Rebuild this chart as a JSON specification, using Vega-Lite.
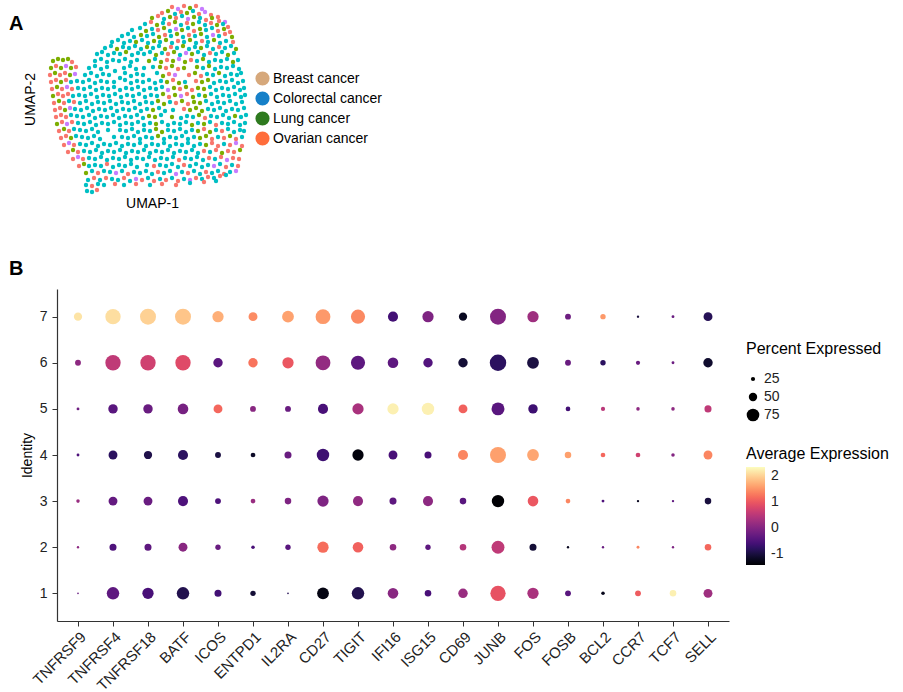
{
"$schema":"https://vega.github.io/schema/vega-lite/v6.json",
"padding":{"left":9,"top":3,"right":0,"bottom":0},
"config":{"font":"Liberation Sans","view":{"stroke":null},"concat":{"spacing":49}},
"datasets":{
"umap":[
{"u1":2.2,"u2":9.4,"s":"S1"},{"u1":2.8,"u2":9.2,"s":"S4"},{"u1":3.4,"u2":9.5,"s":"S1"},{"u1":4.0,"u2":9.3,"s":"S2"},{"u1":4.6,"u2":9.5,"s":"S1"},{"u1":5.2,"u2":9.2,"s":"S4"},
{"u1":1.2,"u2":8.8,"s":"S1"},{"u1":1.8,"u2":9.0,"s":"S2"},{"u1":2.5,"u2":8.7,"s":"S3"},{"u1":3.1,"u2":8.9,"s":"S1"},{"u1":3.7,"u2":8.8,"s":"S2"},{"u1":4.3,"u2":9.0,"s":"S3"},{"u1":4.9,"u2":8.7,"s":"S1"},{"u1":5.5,"u2":8.9,"s":"S4"},{"u1":6.1,"u2":8.6,"s":"S1"},{"u1":6.8,"u2":8.4,"s":"S1"},
{"u1":0.2,"u2":8.3,"s":"S2"},{"u1":0.8,"u2":8.5,"s":"S1"},{"u1":1.4,"u2":8.2,"s":"S3"},{"u1":2.0,"u2":8.4,"s":"S2"},{"u1":2.6,"u2":8.3,"s":"S1"},{"u1":3.2,"u2":8.5,"s":"S3"},{"u1":3.8,"u2":8.2,"s":"S4"},{"u1":4.4,"u2":8.4,"s":"S2"},{"u1":5.0,"u2":8.3,"s":"S3"},{"u1":5.6,"u2":8.1,"s":"S1"},{"u1":6.2,"u2":8.3,"s":"S2"},{"u1":6.9,"u2":8.0,"s":"S1"},{"u1":7.5,"u2":7.9,"s":"S4"},
{"u1":-0.5,"u2":7.7,"s":"S3"},{"u1":0.1,"u2":7.9,"s":"S1"},{"u1":0.7,"u2":7.6,"s":"S2"},{"u1":1.3,"u2":7.8,"s":"S3"},{"u1":1.9,"u2":7.7,"s":"S1"},{"u1":2.5,"u2":7.9,"s":"S2"},{"u1":3.1,"u2":7.6,"s":"S3"},{"u1":3.7,"u2":7.8,"s":"S1"},{"u1":4.3,"u2":7.7,"s":"S2"},{"u1":4.9,"u2":7.9,"s":"S3"},{"u1":5.5,"u2":7.6,"s":"S3"},{"u1":6.1,"u2":7.8,"s":"S1"},{"u1":6.7,"u2":7.6,"s":"S2"},{"u1":7.3,"u2":7.7,"s":"S3"},{"u1":7.8,"u2":7.4,"s":"S1"},
{"u1":-1.8,"u2":7.1,"s":"S3"},{"u1":-1.0,"u2":7.3,"s":"S3"},{"u1":-0.4,"u2":7.0,"s":"S2"},{"u1":0.2,"u2":7.2,"s":"S3"},{"u1":0.8,"u2":7.1,"s":"S1"},{"u1":1.4,"u2":7.3,"s":"S2"},{"u1":2.0,"u2":7.0,"s":"S3"},{"u1":2.6,"u2":7.2,"s":"S4"},{"u1":3.2,"u2":7.1,"s":"S2"},{"u1":3.8,"u2":7.3,"s":"S3"},{"u1":4.4,"u2":7.0,"s":"S1"},{"u1":5.0,"u2":7.2,"s":"S2"},{"u1":5.6,"u2":7.1,"s":"S3"},{"u1":6.2,"u2":7.3,"s":"S3"},{"u1":6.8,"u2":7.0,"s":"S1"},{"u1":7.4,"u2":7.2,"s":"S2"},{"u1":8.0,"u2":6.9,"s":"S1"},
{"u1":-2.8,"u2":6.5,"s":"S3"},{"u1":-2.2,"u2":6.7,"s":"S3"},{"u1":-1.6,"u2":6.4,"s":"S3"},{"u1":-0.9,"u2":6.6,"s":"S2"},{"u1":-0.3,"u2":6.5,"s":"S3"},{"u1":0.3,"u2":6.7,"s":"S3"},{"u1":0.9,"u2":6.4,"s":"S2"},{"u1":1.5,"u2":6.6,"s":"S1"},{"u1":2.1,"u2":6.5,"s":"S3"},{"u1":2.7,"u2":6.7,"s":"S2"},{"u1":3.3,"u2":6.4,"s":"S3"},{"u1":3.9,"u2":6.6,"s":"S1"},{"u1":4.5,"u2":6.5,"s":"S3"},{"u1":5.1,"u2":6.7,"s":"S2"},{"u1":5.7,"u2":6.4,"s":"S3"},{"u1":6.3,"u2":6.6,"s":"S4"},{"u1":6.9,"u2":6.5,"s":"S3"},{"u1":7.5,"u2":6.7,"s":"S1"},{"u1":8.2,"u2":6.4,"s":"S2"},
{"u1":-3.8,"u2":5.9,"s":"S3"},{"u1":-3.2,"u2":6.1,"s":"S3"},{"u1":-2.6,"u2":5.8,"s":"S3"},{"u1":-2.0,"u2":6.0,"s":"S3"},{"u1":-1.4,"u2":5.9,"s":"S2"},{"u1":-0.8,"u2":6.1,"s":"S3"},{"u1":-0.2,"u2":5.8,"s":"S3"},{"u1":0.4,"u2":6.0,"s":"S2"},{"u1":1.0,"u2":5.9,"s":"S3"},{"u1":1.6,"u2":6.1,"s":"S2"},{"u1":2.2,"u2":5.8,"s":"S3"},{"u1":2.8,"u2":6.0,"s":"S1"},{"u1":3.4,"u2":5.9,"s":"S3"},{"u1":4.0,"u2":6.1,"s":"S2"},{"u1":4.6,"u2":5.8,"s":"S3"},{"u1":5.2,"u2":6.0,"s":"S1"},{"u1":5.8,"u2":5.9,"s":"S3"},{"u1":6.4,"u2":6.1,"s":"S2"},{"u1":7.0,"u2":5.8,"s":"S3"},{"u1":7.6,"u2":6.0,"s":"S3"},{"u1":8.3,"u2":5.9,"s":"S1"},
{"u1":-4.5,"u2":5.3,"s":"S3"},{"u1":-3.9,"u2":5.5,"s":"S3"},{"u1":-3.3,"u2":5.2,"s":"S2"},{"u1":-2.7,"u2":5.4,"s":"S3"},{"u1":-2.1,"u2":5.3,"s":"S3"},{"u1":-1.5,"u2":5.5,"s":"S3"},{"u1":-0.9,"u2":5.2,"s":"S3"},{"u1":-0.3,"u2":5.4,"s":"S2"},{"u1":0.3,"u2":5.3,"s":"S3"},{"u1":0.9,"u2":5.5,"s":"S3"},{"u1":1.5,"u2":5.2,"s":"S2"},{"u1":2.1,"u2":5.4,"s":"S1"},{"u1":2.7,"u2":5.3,"s":"S3"},{"u1":3.3,"u2":5.5,"s":"S2"},{"u1":3.9,"u2":5.2,"s":"S3"},{"u1":4.5,"u2":5.4,"s":"S3"},{"u1":5.1,"u2":5.3,"s":"S2"},{"u1":5.7,"u2":5.5,"s":"S3"},{"u1":6.3,"u2":5.2,"s":"S3"},{"u1":6.9,"u2":5.4,"s":"S1"},{"u1":7.5,"u2":5.3,"s":"S3"},{"u1":8.1,"u2":5.5,"s":"S3"},{"u1":8.6,"u2":5.2,"s":"S2"},
{"u1":-5.3,"u2":4.7,"s":"S3"},{"u1":-4.8,"u2":4.9,"s":"S3"},{"u1":-4.2,"u2":4.6,"s":"S3"},{"u1":-3.6,"u2":4.8,"s":"S3"},{"u1":-3.0,"u2":4.7,"s":"S3"},{"u1":-2.4,"u2":4.9,"s":"S2"},{"u1":-1.8,"u2":4.6,"s":"S3"},{"u1":-1.2,"u2":4.8,"s":"S3"},{"u1":-0.6,"u2":4.7,"s":"S3"},{"u1":0.0,"u2":4.9,"s":"S3"},{"u1":0.6,"u2":4.6,"s":"S2"},{"u1":1.2,"u2":4.8,"s":"S3"},{"u1":1.8,"u2":4.7,"s":"S1"},{"u1":2.4,"u2":4.9,"s":"S2"},{"u1":3.0,"u2":4.6,"s":"S3"},{"u1":3.6,"u2":4.8,"s":"S4"},{"u1":4.2,"u2":4.7,"s":"S2"},{"u1":4.8,"u2":4.9,"s":"S3"},{"u1":5.4,"u2":4.6,"s":"S3"},{"u1":6.0,"u2":4.8,"s":"S1"},{"u1":6.6,"u2":4.7,"s":"S3"},{"u1":7.2,"u2":4.9,"s":"S3"},{"u1":7.8,"u2":4.6,"s":"S2"},{"u1":8.4,"u2":4.8,"s":"S3"},
{"u1":-9.7,"u2":4.0,"s":"S2"},{"u1":-9.2,"u2":4.2,"s":"S2"},{"u1":-8.7,"u2":4.1,"s":"S2"},{"u1":-8.2,"u2":4.2,"s":"S2"},{"u1":-7.8,"u2":3.9,"s":"S1"},{"u1":-5.5,"u2":4.0,"s":"S3"},{"u1":-4.9,"u2":4.2,"s":"S3"},{"u1":-4.3,"u2":3.9,"s":"S3"},{"u1":-3.7,"u2":4.1,"s":"S3"},{"u1":-3.1,"u2":4.0,"s":"S3"},{"u1":-2.5,"u2":4.2,"s":"S3"},{"u1":-1.9,"u2":3.9,"s":"S3"},{"u1":-1.3,"u2":4.1,"s":"S3"},{"u1":-0.1,"u2":4.0,"s":"S2"},{"u1":0.5,"u2":4.2,"s":"S3"},{"u1":1.1,"u2":3.9,"s":"S2"},{"u1":1.7,"u2":4.1,"s":"S1"},{"u1":2.3,"u2":4.0,"s":"S2"},{"u1":2.9,"u2":4.2,"s":"S4"},{"u1":3.5,"u2":3.9,"s":"S2"},{"u1":4.1,"u2":4.1,"s":"S1"},{"u1":4.7,"u2":4.0,"s":"S3"},{"u1":5.3,"u2":4.2,"s":"S2"},{"u1":5.9,"u2":3.9,"s":"S3"},{"u1":6.5,"u2":4.1,"s":"S3"},{"u1":7.1,"u2":4.0,"s":"S3"},{"u1":7.7,"u2":4.2,"s":"S3"},{"u1":8.3,"u2":3.9,"s":"S2"},{"u1":8.8,"u2":4.1,"s":"S3"},
{"u1":-9.9,"u2":3.3,"s":"S2"},{"u1":-9.4,"u2":3.5,"s":"S1"},{"u1":-8.9,"u2":3.3,"s":"S2"},{"u1":-8.4,"u2":3.5,"s":"S4"},{"u1":-7.9,"u2":3.3,"s":"S2"},{"u1":-7.4,"u2":3.4,"s":"S1"},{"u1":-6.1,"u2":3.3,"s":"S3"},{"u1":-5.5,"u2":3.5,"s":"S3"},{"u1":-4.9,"u2":3.2,"s":"S3"},{"u1":-4.3,"u2":3.4,"s":"S3"},{"u1":-2.6,"u2":3.3,"s":"S3"},{"u1":-2.0,"u2":3.5,"s":"S3"},{"u1":-1.4,"u2":3.2,"s":"S3"},{"u1":1.0,"u2":3.4,"s":"S2"},{"u1":1.6,"u2":3.3,"s":"S1"},{"u1":2.2,"u2":3.5,"s":"S2"},{"u1":2.8,"u2":3.2,"s":"S1"},{"u1":4.7,"u2":3.4,"s":"S2"},{"u1":5.3,"u2":3.3,"s":"S3"},{"u1":5.9,"u2":3.5,"s":"S2"},{"u1":6.5,"u2":3.2,"s":"S3"},{"u1":7.1,"u2":3.4,"s":"S3"},{"u1":7.7,"u2":3.3,"s":"S3"},{"u1":8.3,"u2":3.5,"s":"S3"},{"u1":8.9,"u2":3.2,"s":"S3"},
{"u1":-10.0,"u2":2.6,"s":"S1"},{"u1":-9.5,"u2":2.8,"s":"S2"},{"u1":-9.0,"u2":2.6,"s":"S1"},{"u1":-8.5,"u2":2.8,"s":"S1"},{"u1":-8.0,"u2":2.6,"s":"S2"},{"u1":-7.5,"u2":2.7,"s":"S4"},{"u1":-6.5,"u2":2.6,"s":"S3"},{"u1":-5.9,"u2":2.8,"s":"S3"},{"u1":-5.3,"u2":2.5,"s":"S3"},{"u1":-4.7,"u2":2.7,"s":"S3"},{"u1":-4.1,"u2":2.6,"s":"S3"},{"u1":-2.5,"u2":2.8,"s":"S3"},{"u1":-1.9,"u2":2.5,"s":"S3"},{"u1":-1.3,"u2":2.7,"s":"S3"},{"u1":-0.7,"u2":2.6,"s":"S3"},{"u1":0.7,"u2":2.8,"s":"S3"},{"u1":1.3,"u2":2.5,"s":"S2"},{"u1":1.9,"u2":2.7,"s":"S1"},{"u1":2.5,"u2":2.6,"s":"S4"},{"u1":4.5,"u2":2.8,"s":"S2"},{"u1":5.1,"u2":2.5,"s":"S1"},{"u1":5.7,"u2":2.7,"s":"S3"},{"u1":6.3,"u2":2.6,"s":"S3"},{"u1":6.9,"u2":2.8,"s":"S2"},{"u1":7.5,"u2":2.5,"s":"S3"},{"u1":8.1,"u2":2.7,"s":"S3"},{"u1":8.7,"u2":2.6,"s":"S3"},{"u1":9.1,"u2":2.8,"s":"S3"},
{"u1":-9.9,"u2":1.9,"s":"S1"},{"u1":-9.4,"u2":2.1,"s":"S1"},{"u1":-8.9,"u2":1.9,"s":"S2"},{"u1":-8.4,"u2":2.1,"s":"S1"},{"u1":-7.9,"u2":1.9,"s":"S3"},{"u1":-7.3,"u2":2.0,"s":"S3"},{"u1":-6.7,"u2":1.9,"s":"S3"},{"u1":-6.1,"u2":2.1,"s":"S3"},{"u1":-5.5,"u2":1.8,"s":"S3"},{"u1":-4.9,"u2":2.0,"s":"S3"},{"u1":-4.3,"u2":1.9,"s":"S3"},{"u1":-2.5,"u2":2.1,"s":"S3"},{"u1":-1.9,"u2":1.8,"s":"S3"},{"u1":-1.3,"u2":2.0,"s":"S3"},{"u1":-0.7,"u2":1.9,"s":"S3"},{"u1":-0.1,"u2":2.1,"s":"S3"},{"u1":0.5,"u2":1.8,"s":"S3"},{"u1":1.1,"u2":2.0,"s":"S3"},{"u1":1.7,"u2":1.9,"s":"S2"},{"u1":2.3,"u2":2.1,"s":"S1"},{"u1":2.9,"u2":1.8,"s":"S2"},{"u1":4.6,"u2":2.0,"s":"S1"},{"u1":5.2,"u2":1.9,"s":"S2"},{"u1":5.8,"u2":2.1,"s":"S2"},{"u1":6.4,"u2":1.8,"s":"S3"},{"u1":7.0,"u2":2.0,"s":"S3"},{"u1":7.6,"u2":1.9,"s":"S3"},{"u1":8.2,"u2":2.1,"s":"S3"},{"u1":8.8,"u2":1.8,"s":"S3"},{"u1":9.3,"u2":2.0,"s":"S3"},
{"u1":-9.8,"u2":1.2,"s":"S1"},{"u1":-9.3,"u2":1.4,"s":"S2"},{"u1":-8.8,"u2":1.2,"s":"S1"},{"u1":-8.3,"u2":1.4,"s":"S4"},{"u1":-7.8,"u2":1.2,"s":"S1"},{"u1":-7.2,"u2":1.3,"s":"S3"},{"u1":-6.6,"u2":1.2,"s":"S3"},{"u1":-6.0,"u2":1.4,"s":"S3"},{"u1":-5.4,"u2":1.1,"s":"S3"},{"u1":-4.8,"u2":1.3,"s":"S3"},{"u1":-4.2,"u2":1.2,"s":"S3"},{"u1":-3.6,"u2":1.4,"s":"S3"},{"u1":-3.0,"u2":1.1,"s":"S3"},{"u1":-2.4,"u2":1.3,"s":"S3"},{"u1":-1.8,"u2":1.2,"s":"S3"},{"u1":-1.2,"u2":1.4,"s":"S3"},{"u1":-0.6,"u2":1.1,"s":"S3"},{"u1":0.0,"u2":1.3,"s":"S3"},{"u1":0.6,"u2":1.2,"s":"S3"},{"u1":1.2,"u2":1.4,"s":"S3"},{"u1":1.8,"u2":1.1,"s":"S4"},{"u1":2.4,"u2":1.3,"s":"S2"},{"u1":3.0,"u2":1.2,"s":"S1"},{"u1":3.6,"u2":1.4,"s":"S2"},{"u1":4.2,"u2":1.1,"s":"S1"},{"u1":4.8,"u2":1.3,"s":"S2"},{"u1":5.4,"u2":1.2,"s":"S2"},{"u1":6.0,"u2":1.4,"s":"S3"},{"u1":6.6,"u2":1.1,"s":"S3"},{"u1":7.2,"u2":1.3,"s":"S3"},{"u1":7.8,"u2":1.2,"s":"S3"},{"u1":8.4,"u2":1.4,"s":"S3"},{"u1":9.0,"u2":1.1,"s":"S3"},{"u1":9.4,"u2":1.3,"s":"S3"},
{"u1":-9.7,"u2":0.5,"s":"S2"},{"u1":-9.2,"u2":0.7,"s":"S1"},{"u1":-8.7,"u2":0.5,"s":"S1"},{"u1":-8.2,"u2":0.7,"s":"S1"},{"u1":-7.7,"u2":0.5,"s":"S3"},{"u1":-7.1,"u2":0.6,"s":"S3"},{"u1":-6.5,"u2":0.5,"s":"S3"},{"u1":-5.9,"u2":0.7,"s":"S3"},{"u1":-5.3,"u2":0.4,"s":"S3"},{"u1":-4.7,"u2":0.6,"s":"S3"},{"u1":-4.1,"u2":0.5,"s":"S3"},{"u1":-3.5,"u2":0.7,"s":"S3"},{"u1":-2.9,"u2":0.4,"s":"S3"},{"u1":-2.3,"u2":0.6,"s":"S3"},{"u1":-1.7,"u2":0.5,"s":"S3"},{"u1":-1.1,"u2":0.7,"s":"S3"},{"u1":-0.5,"u2":0.4,"s":"S3"},{"u1":0.1,"u2":0.6,"s":"S3"},{"u1":0.7,"u2":0.5,"s":"S3"},{"u1":1.3,"u2":0.7,"s":"S2"},{"u1":1.9,"u2":0.4,"s":"S1"},{"u1":2.5,"u2":0.6,"s":"S2"},{"u1":3.1,"u2":0.5,"s":"S4"},{"u1":3.7,"u2":0.7,"s":"S1"},{"u1":4.3,"u2":0.4,"s":"S2"},{"u1":4.9,"u2":0.6,"s":"S3"},{"u1":5.5,"u2":0.5,"s":"S2"},{"u1":6.1,"u2":0.7,"s":"S3"},{"u1":6.7,"u2":0.4,"s":"S3"},{"u1":7.3,"u2":0.6,"s":"S3"},{"u1":7.9,"u2":0.5,"s":"S3"},{"u1":8.5,"u2":0.7,"s":"S3"},{"u1":9.1,"u2":0.4,"s":"S3"},{"u1":9.5,"u2":0.6,"s":"S3"},
{"u1":-9.6,"u2":-0.2,"s":"S1"},{"u1":-9.1,"u2":0.0,"s":"S2"},{"u1":-8.6,"u2":-0.2,"s":"S1"},{"u1":-8.1,"u2":0.0,"s":"S3"},{"u1":-7.6,"u2":-0.1,"s":"S1"},{"u1":-7.0,"u2":-0.2,"s":"S3"},{"u1":-6.4,"u2":0.0,"s":"S3"},{"u1":-5.8,"u2":-0.3,"s":"S3"},{"u1":-5.2,"u2":-0.1,"s":"S3"},{"u1":-4.6,"u2":-0.2,"s":"S3"},{"u1":-4.0,"u2":0.0,"s":"S3"},{"u1":-3.4,"u2":-0.3,"s":"S3"},{"u1":-2.8,"u2":-0.1,"s":"S3"},{"u1":-2.2,"u2":-0.2,"s":"S3"},{"u1":-1.6,"u2":0.0,"s":"S3"},{"u1":-1.0,"u2":-0.3,"s":"S3"},{"u1":-0.4,"u2":-0.1,"s":"S3"},{"u1":0.2,"u2":-0.2,"s":"S3"},{"u1":0.8,"u2":0.0,"s":"S2"},{"u1":1.4,"u2":-0.3,"s":"S2"},{"u1":2.0,"u2":-0.1,"s":"S3"},{"u1":2.6,"u2":-0.2,"s":"S1"},{"u1":3.2,"u2":0.0,"s":"S2"},{"u1":3.8,"u2":-0.3,"s":"S1"},{"u1":4.4,"u2":-0.1,"s":"S2"},{"u1":5.0,"u2":-0.2,"s":"S2"},{"u1":5.6,"u2":0.0,"s":"S3"},{"u1":6.2,"u2":-0.3,"s":"S3"},{"u1":6.8,"u2":-0.1,"s":"S3"},{"u1":7.4,"u2":-0.2,"s":"S3"},{"u1":8.0,"u2":0.0,"s":"S3"},{"u1":8.6,"u2":-0.3,"s":"S3"},{"u1":9.2,"u2":-0.1,"s":"S3"},
{"u1":-9.5,"u2":-0.9,"s":"S1"},{"u1":-9.0,"u2":-0.7,"s":"S1"},{"u1":-8.5,"u2":-0.9,"s":"S2"},{"u1":-8.0,"u2":-0.7,"s":"S4"},{"u1":-7.5,"u2":-0.8,"s":"S3"},{"u1":-6.9,"u2":-0.9,"s":"S3"},{"u1":-6.3,"u2":-0.7,"s":"S3"},{"u1":-5.7,"u2":-1.0,"s":"S3"},{"u1":-5.1,"u2":-0.8,"s":"S3"},{"u1":-4.5,"u2":-0.9,"s":"S3"},{"u1":-3.9,"u2":-0.7,"s":"S3"},{"u1":-3.3,"u2":-1.0,"s":"S3"},{"u1":-2.7,"u2":-0.8,"s":"S3"},{"u1":-2.1,"u2":-0.9,"s":"S3"},{"u1":-1.5,"u2":-0.7,"s":"S3"},{"u1":-0.9,"u2":-1.0,"s":"S3"},{"u1":-0.3,"u2":-0.8,"s":"S3"},{"u1":0.3,"u2":-0.9,"s":"S2"},{"u1":0.9,"u2":-0.7,"s":"S3"},{"u1":1.5,"u2":-1.0,"s":"S3"},{"u1":3.4,"u2":-0.8,"s":"S1"},{"u1":4.0,"u2":-0.9,"s":"S2"},{"u1":4.6,"u2":-0.7,"s":"S2"},{"u1":5.2,"u2":-1.0,"s":"S2"},{"u1":5.8,"u2":-0.8,"s":"S3"},{"u1":6.4,"u2":-0.9,"s":"S3"},{"u1":7.0,"u2":-0.7,"s":"S3"},{"u1":7.6,"u2":-1.0,"s":"S3"},{"u1":8.2,"u2":-0.8,"s":"S3"},{"u1":8.8,"u2":-0.9,"s":"S3"},{"u1":9.4,"u2":-0.7,"s":"S3"},
{"u1":-9.4,"u2":-1.6,"s":"S1"},{"u1":-8.9,"u2":-1.4,"s":"S1"},{"u1":-8.4,"u2":-1.6,"s":"S1"},{"u1":-7.9,"u2":-1.4,"s":"S3"},{"u1":-7.3,"u2":-1.5,"s":"S3"},{"u1":-6.7,"u2":-1.6,"s":"S3"},{"u1":-6.1,"u2":-1.4,"s":"S3"},{"u1":-5.5,"u2":-1.7,"s":"S3"},{"u1":-4.9,"u2":-1.5,"s":"S3"},{"u1":-4.3,"u2":-1.6,"s":"S3"},{"u1":-3.7,"u2":-1.4,"s":"S3"},{"u1":-3.1,"u2":-1.7,"s":"S3"},{"u1":-2.5,"u2":-1.5,"s":"S3"},{"u1":-1.9,"u2":-1.6,"s":"S3"},{"u1":-1.3,"u2":-1.4,"s":"S3"},{"u1":-0.7,"u2":-1.7,"s":"S3"},{"u1":-0.1,"u2":-1.5,"s":"S2"},{"u1":0.5,"u2":-1.6,"s":"S2"},{"u1":1.1,"u2":-1.4,"s":"S3"},{"u1":3.1,"u2":-1.7,"s":"S3"},{"u1":3.7,"u2":-1.5,"s":"S3"},{"u1":4.3,"u2":-1.6,"s":"S3"},{"u1":4.9,"u2":-1.4,"s":"S2"},{"u1":5.5,"u2":-1.7,"s":"S1"},{"u1":6.1,"u2":-1.5,"s":"S3"},{"u1":6.7,"u2":-1.6,"s":"S3"},{"u1":7.3,"u2":-1.4,"s":"S3"},{"u1":7.9,"u2":-1.7,"s":"S3"},{"u1":8.5,"u2":-1.5,"s":"S2"},{"u1":9.1,"u2":-1.6,"s":"S3"},{"u1":9.6,"u2":-1.4,"s":"S3"},
{"u1":-9.3,"u2":-2.3,"s":"S2"},{"u1":-8.8,"u2":-2.1,"s":"S1"},{"u1":-8.3,"u2":-2.3,"s":"S4"},{"u1":-7.8,"u2":-2.1,"s":"S1"},{"u1":-7.2,"u2":-2.2,"s":"S3"},{"u1":-6.6,"u2":-2.3,"s":"S3"},{"u1":-6.0,"u2":-2.1,"s":"S3"},{"u1":-5.4,"u2":-2.4,"s":"S3"},{"u1":-4.8,"u2":-2.2,"s":"S3"},{"u1":-4.2,"u2":-2.3,"s":"S3"},{"u1":-3.6,"u2":-2.1,"s":"S3"},{"u1":-3.0,"u2":-2.4,"s":"S3"},{"u1":-2.4,"u2":-2.2,"s":"S3"},{"u1":-1.8,"u2":-2.3,"s":"S3"},{"u1":-1.2,"u2":-2.1,"s":"S3"},{"u1":-0.6,"u2":-2.4,"s":"S3"},{"u1":0.0,"u2":-2.2,"s":"S3"},{"u1":0.6,"u2":-2.3,"s":"S2"},{"u1":1.2,"u2":-2.1,"s":"S3"},{"u1":1.8,"u2":-2.4,"s":"S3"},{"u1":2.4,"u2":-2.2,"s":"S3"},{"u1":3.0,"u2":-2.3,"s":"S3"},{"u1":3.6,"u2":-2.1,"s":"S3"},{"u1":4.2,"u2":-2.4,"s":"S2"},{"u1":4.8,"u2":-2.2,"s":"S3"},{"u1":5.4,"u2":-2.3,"s":"S2"},{"u1":6.0,"u2":-2.1,"s":"S3"},{"u1":6.6,"u2":-2.4,"s":"S1"},{"u1":7.2,"u2":-2.2,"s":"S3"},{"u1":7.8,"u2":-2.3,"s":"S3"},{"u1":8.4,"u2":-2.1,"s":"S3"},{"u1":9.0,"u2":-2.4,"s":"S3"},{"u1":9.5,"u2":-2.2,"s":"S3"},
{"u1":-9.1,"u2":-3.0,"s":"S1"},{"u1":-8.6,"u2":-2.8,"s":"S2"},{"u1":-8.1,"u2":-3.0,"s":"S1"},{"u1":-7.6,"u2":-2.8,"s":"S3"},{"u1":-7.0,"u2":-2.9,"s":"S3"},{"u1":-6.4,"u2":-3.0,"s":"S3"},{"u1":-5.8,"u2":-2.8,"s":"S3"},{"u1":-5.2,"u2":-3.1,"s":"S3"},{"u1":-3.0,"u2":-2.9,"s":"S3"},{"u1":-2.4,"u2":-3.0,"s":"S3"},{"u1":-1.8,"u2":-2.8,"s":"S3"},{"u1":-1.2,"u2":-3.1,"s":"S3"},{"u1":-0.6,"u2":-2.9,"s":"S3"},{"u1":0.0,"u2":-3.0,"s":"S3"},{"u1":0.6,"u2":-2.8,"s":"S2"},{"u1":1.2,"u2":-3.1,"s":"S2"},{"u1":1.8,"u2":-2.9,"s":"S3"},{"u1":2.4,"u2":-3.0,"s":"S3"},{"u1":3.0,"u2":-2.8,"s":"S3"},{"u1":3.6,"u2":-3.1,"s":"S3"},{"u1":4.2,"u2":-2.9,"s":"S3"},{"u1":4.8,"u2":-3.0,"s":"S2"},{"u1":5.4,"u2":-2.8,"s":"S1"},{"u1":6.0,"u2":-3.1,"s":"S2"},{"u1":6.6,"u2":-2.9,"s":"S3"},{"u1":7.2,"u2":-3.0,"s":"S1"},{"u1":7.8,"u2":-2.8,"s":"S3"},{"u1":8.4,"u2":-3.1,"s":"S3"},{"u1":9.0,"u2":-2.9,"s":"S3"},{"u1":9.4,"u2":-3.0,"s":"S3"},
{"u1":-8.9,"u2":-3.7,"s":"S1"},{"u1":-8.4,"u2":-3.5,"s":"S1"},{"u1":-7.9,"u2":-3.7,"s":"S2"},{"u1":-7.4,"u2":-3.5,"s":"S3"},{"u1":-6.8,"u2":-3.6,"s":"S3"},{"u1":-6.2,"u2":-3.7,"s":"S3"},{"u1":-5.6,"u2":-3.5,"s":"S3"},{"u1":-5.0,"u2":-3.8,"s":"S3"},{"u1":-2.8,"u2":-3.6,"s":"S3"},{"u1":-2.2,"u2":-3.7,"s":"S3"},{"u1":-1.6,"u2":-3.5,"s":"S3"},{"u1":-1.0,"u2":-3.8,"s":"S3"},{"u1":-0.4,"u2":-3.6,"s":"S3"},{"u1":0.2,"u2":-3.7,"s":"S3"},{"u1":0.8,"u2":-3.5,"s":"S2"},{"u1":1.4,"u2":-3.8,"s":"S3"},{"u1":2.0,"u2":-3.6,"s":"S3"},{"u1":2.6,"u2":-3.7,"s":"S3"},{"u1":3.2,"u2":-3.5,"s":"S3"},{"u1":3.8,"u2":-3.8,"s":"S3"},{"u1":4.4,"u2":-3.6,"s":"S3"},{"u1":5.0,"u2":-3.7,"s":"S2"},{"u1":5.6,"u2":-3.5,"s":"S2"},{"u1":6.2,"u2":-3.8,"s":"S1"},{"u1":6.8,"u2":-3.6,"s":"S3"},{"u1":7.4,"u2":-3.7,"s":"S1"},{"u1":8.0,"u2":-3.5,"s":"S2"},{"u1":8.6,"u2":-3.8,"s":"S1"},{"u1":9.2,"u2":-3.6,"s":"S3"},
{"u1":-8.6,"u2":-4.4,"s":"S1"},{"u1":-8.1,"u2":-4.2,"s":"S4"},{"u1":-7.6,"u2":-4.4,"s":"S1"},{"u1":-7.0,"u2":-4.3,"s":"S3"},{"u1":-6.4,"u2":-4.4,"s":"S3"},{"u1":-5.8,"u2":-4.2,"s":"S3"},{"u1":-5.2,"u2":-4.5,"s":"S3"},{"u1":-4.6,"u2":-4.3,"s":"S3"},{"u1":-4.0,"u2":-4.4,"s":"S3"},{"u1":-3.4,"u2":-4.2,"s":"S3"},{"u1":-2.8,"u2":-4.5,"s":"S3"},{"u1":-2.2,"u2":-4.3,"s":"S3"},{"u1":-1.6,"u2":-4.4,"s":"S3"},{"u1":-1.0,"u2":-4.2,"s":"S3"},{"u1":-0.4,"u2":-4.5,"s":"S3"},{"u1":0.2,"u2":-4.3,"s":"S3"},{"u1":0.8,"u2":-4.4,"s":"S3"},{"u1":1.4,"u2":-4.2,"s":"S3"},{"u1":2.0,"u2":-4.5,"s":"S3"},{"u1":2.6,"u2":-4.3,"s":"S3"},{"u1":3.2,"u2":-4.4,"s":"S3"},{"u1":3.8,"u2":-4.2,"s":"S3"},{"u1":4.4,"u2":-4.5,"s":"S3"},{"u1":5.0,"u2":-4.3,"s":"S3"},{"u1":5.6,"u2":-4.4,"s":"S2"},{"u1":6.2,"u2":-4.2,"s":"S1"},{"u1":6.8,"u2":-4.5,"s":"S1"},{"u1":7.4,"u2":-4.3,"s":"S3"},{"u1":8.0,"u2":-4.4,"s":"S1"},{"u1":8.6,"u2":-4.2,"s":"S4"},{"u1":9.2,"u2":-4.5,"s":"S1"},
{"u1":-8.2,"u2":-5.1,"s":"S1"},{"u1":-7.7,"u2":-4.9,"s":"S2"},{"u1":-7.2,"u2":-5.1,"s":"S1"},{"u1":-6.6,"u2":-5.0,"s":"S3"},{"u1":-6.0,"u2":-5.1,"s":"S3"},{"u1":-5.4,"u2":-4.9,"s":"S3"},{"u1":-4.8,"u2":-5.2,"s":"S3"},{"u1":-4.2,"u2":-5.0,"s":"S3"},{"u1":-3.6,"u2":-5.1,"s":"S3"},{"u1":-3.0,"u2":-4.9,"s":"S3"},{"u1":-2.4,"u2":-5.2,"s":"S3"},{"u1":-1.8,"u2":-5.0,"s":"S3"},{"u1":-1.2,"u2":-5.1,"s":"S3"},{"u1":-0.6,"u2":-4.9,"s":"S3"},{"u1":0.0,"u2":-5.2,"s":"S3"},{"u1":0.6,"u2":-5.0,"s":"S3"},{"u1":1.2,"u2":-5.1,"s":"S3"},{"u1":1.8,"u2":-4.9,"s":"S3"},{"u1":2.4,"u2":-5.2,"s":"S3"},{"u1":3.0,"u2":-5.0,"s":"S3"},{"u1":3.6,"u2":-5.1,"s":"S3"},{"u1":4.2,"u2":-4.9,"s":"S3"},{"u1":4.8,"u2":-5.2,"s":"S3"},{"u1":5.4,"u2":-5.0,"s":"S1"},{"u1":6.0,"u2":-5.1,"s":"S3"},{"u1":6.6,"u2":-4.9,"s":"S1"},{"u1":7.2,"u2":-5.2,"s":"S2"},{"u1":7.8,"u2":-5.0,"s":"S1"},{"u1":8.4,"u2":-5.1,"s":"S1"},{"u1":9.0,"u2":-4.9,"s":"S2"},
{"u1":-7.7,"u2":-5.8,"s":"S1"},{"u1":-7.2,"u2":-5.6,"s":"S4"},{"u1":-6.7,"u2":-5.8,"s":"S1"},{"u1":-6.1,"u2":-5.7,"s":"S3"},{"u1":-5.5,"u2":-5.8,"s":"S3"},{"u1":-4.9,"u2":-5.6,"s":"S3"},{"u1":-4.3,"u2":-5.9,"s":"S3"},{"u1":-3.7,"u2":-5.7,"s":"S3"},{"u1":-3.1,"u2":-5.8,"s":"S3"},{"u1":-2.5,"u2":-5.6,"s":"S3"},{"u1":-1.9,"u2":-5.9,"s":"S3"},{"u1":-1.3,"u2":-5.7,"s":"S3"},{"u1":-0.7,"u2":-5.8,"s":"S3"},{"u1":-0.1,"u2":-5.6,"s":"S3"},{"u1":0.5,"u2":-5.9,"s":"S3"},{"u1":1.1,"u2":-5.7,"s":"S3"},{"u1":1.7,"u2":-5.8,"s":"S3"},{"u1":2.3,"u2":-5.6,"s":"S3"},{"u1":2.9,"u2":-5.9,"s":"S1"},{"u1":3.5,"u2":-5.7,"s":"S3"},{"u1":4.1,"u2":-5.8,"s":"S3"},{"u1":4.7,"u2":-5.6,"s":"S3"},{"u1":5.3,"u2":-5.9,"s":"S3"},{"u1":5.9,"u2":-5.7,"s":"S1"},{"u1":6.5,"u2":-5.8,"s":"S3"},{"u1":7.1,"u2":-5.6,"s":"S1"},{"u1":7.7,"u2":-5.9,"s":"S4"},{"u1":8.3,"u2":-5.7,"s":"S1"},{"u1":8.9,"u2":-5.8,"s":"S1"},
{"u1":-7.1,"u2":-6.5,"s":"S1"},{"u1":-6.6,"u2":-6.3,"s":"S2"},{"u1":-6.1,"u2":-6.5,"s":"S3"},{"u1":-5.5,"u2":-6.4,"s":"S3"},{"u1":-4.9,"u2":-6.5,"s":"S3"},{"u1":-4.3,"u2":-6.3,"s":"S1"},{"u1":-3.7,"u2":-6.6,"s":"S3"},{"u1":-3.1,"u2":-6.4,"s":"S3"},{"u1":-2.5,"u2":-6.5,"s":"S3"},{"u1":-1.9,"u2":-6.3,"s":"S3"},{"u1":-1.3,"u2":-6.6,"s":"S3"},{"u1":1.0,"u2":-6.4,"s":"S3"},{"u1":1.6,"u2":-6.5,"s":"S3"},{"u1":2.2,"u2":-6.3,"s":"S3"},{"u1":2.8,"u2":-6.6,"s":"S3"},{"u1":3.4,"u2":-6.4,"s":"S1"},{"u1":4.0,"u2":-6.5,"s":"S3"},{"u1":4.6,"u2":-6.3,"s":"S3"},{"u1":5.2,"u2":-6.6,"s":"S3"},{"u1":5.8,"u2":-6.4,"s":"S3"},{"u1":6.4,"u2":-6.5,"s":"S4"},{"u1":7.0,"u2":-6.3,"s":"S3"},{"u1":7.6,"u2":-6.6,"s":"S1"},{"u1":8.2,"u2":-6.4,"s":"S3"},{"u1":8.8,"u2":-6.5,"s":"S1"},
{"u1":-6.4,"u2":-7.2,"s":"S2"},{"u1":-5.8,"u2":-7.0,"s":"S3"},{"u1":-5.2,"u2":-7.2,"s":"S1"},{"u1":-4.6,"u2":-7.0,"s":"S3"},{"u1":-4.0,"u2":-7.1,"s":"S3"},{"u1":-3.4,"u2":-7.2,"s":"S4"},{"u1":-2.8,"u2":-7.0,"s":"S3"},{"u1":-2.2,"u2":-7.3,"s":"S1"},{"u1":-1.6,"u2":-7.1,"s":"S3"},{"u1":-1.0,"u2":-7.2,"s":"S3"},{"u1":-0.4,"u2":-7.0,"s":"S3"},{"u1":0.2,"u2":-7.3,"s":"S3"},{"u1":0.8,"u2":-7.1,"s":"S1"},{"u1":1.4,"u2":-7.2,"s":"S3"},{"u1":2.0,"u2":-7.0,"s":"S3"},{"u1":2.6,"u2":-7.3,"s":"S4"},{"u1":3.2,"u2":-7.1,"s":"S3"},{"u1":3.8,"u2":-7.2,"s":"S1"},{"u1":4.4,"u2":-7.0,"s":"S3"},{"u1":5.0,"u2":-7.3,"s":"S3"},{"u1":5.6,"u2":-7.1,"s":"S1"},{"u1":6.2,"u2":-7.2,"s":"S3"},{"u1":6.8,"u2":-7.0,"s":"S3"},{"u1":7.4,"u2":-7.3,"s":"S1"},{"u1":8.0,"u2":-7.1,"s":"S3"},{"u1":8.6,"u2":-7.0,"s":"S4"},
{"u1":-6.2,"u2":-7.9,"s":"S3"},{"u1":-5.6,"u2":-7.7,"s":"S1"},{"u1":-5.0,"u2":-7.9,"s":"S3"},{"u1":-4.4,"u2":-7.7,"s":"S1"},{"u1":-3.8,"u2":-7.8,"s":"S3"},{"u1":-3.2,"u2":-7.9,"s":"S3"},{"u1":-2.6,"u2":-7.7,"s":"S1"},{"u1":-2.0,"u2":-8.0,"s":"S3"},{"u1":-1.4,"u2":-7.8,"s":"S4"},{"u1":-0.8,"u2":-7.9,"s":"S1"},{"u1":-0.2,"u2":-7.7,"s":"S3"},{"u1":0.4,"u2":-8.0,"s":"S1"},{"u1":1.0,"u2":-7.8,"s":"S3"},{"u1":1.6,"u2":-7.9,"s":"S1"},{"u1":2.2,"u2":-7.7,"s":"S3"},{"u1":2.8,"u2":-8.0,"s":"S1"},{"u1":3.4,"u2":-7.8,"s":"S3"},{"u1":4.0,"u2":-7.9,"s":"S4"},{"u1":4.6,"u2":-7.7,"s":"S1"},{"u1":5.2,"u2":-7.8,"s":"S3"},{"u1":5.8,"u2":-7.6,"s":"S1"},{"u1":6.4,"u2":-7.7,"s":"S3"},{"u1":7.0,"u2":-7.5,"s":"S1"},{"u1":7.6,"u2":-7.4,"s":"S3"},
{"u1":-6.4,"u2":-8.4,"s":"S3"},{"u1":-5.8,"u2":-8.5,"s":"S1"},{"u1":-5.2,"u2":-8.3,"s":"S3"},{"u1":-4.6,"u2":-8.4,"s":"S3"},{"u1":-3.5,"u2":-8.3,"s":"S1"},{"u1":-2.6,"u2":-8.4,"s":"S3"},{"u1":-1.4,"u2":-8.3,"s":"S1"},{"u1":0.0,"u2":-8.4,"s":"S3"},{"u1":1.2,"u2":-8.3,"s":"S1"},{"u1":2.6,"u2":-8.4,"s":"S1"},{"u1":4.0,"u2":-8.2,"s":"S3"},{"u1":5.4,"u2":-8.1,"s":"S1"},{"u1":6.6,"u2":-8.0,"s":"S3"},
{"u1":-6.3,"u2":-9.0,"s":"S3"},{"u1":-5.8,"u2":-9.1,"s":"S3"},{"u1":-5.3,"u2":-8.9,"s":"S1"},
{"u1":-3.5,"u2":3.0,"s":"S3"},{"u1":-3.0,"u2":2.3,"s":"S3"},{"u1":-3.6,"u2":1.9,"s":"S3"},
{"u1":-0.6,"u2":3.3,"s":"S3"},{"u1":0.3,"u2":3.4,"s":"S3"},
{"u1":3.4,"u2":3.3,"s":"S2"},{"u1":3.9,"u2":2.6,"s":"S1"},{"u1":3.5,"u2":1.9,"s":"S3"},
{"u1":2.3,"u2":-0.9,"s":"S3"},{"u1":2.2,"u2":-1.6,"s":"S2"},
{"u1":-4.2,"u2":-2.9,"s":"S3"},{"u1":-3.6,"u2":-3.6,"s":"S3"},
{"u1":-0.3,"u2":-6.4,"s":"S3"},{"u1":0.4,"u2":-6.5,"s":"S1"}
],
"dots":[
{"gene":"TNFRSF9","id":7,"pct":49,"avg":2.15},{"gene":"TNFRSF4","id":7,"pct":91,"avg":2.1},{"gene":"TNFRSF18","id":7,"pct":95,"avg":2.0},{"gene":"BATF","id":7,"pct":95,"avg":1.9},{"gene":"ICOS","id":7,"pct":67,"avg":1.72},{"gene":"ENTPD1","id":7,"pct":53,"avg":1.45},{"gene":"IL2RA","id":7,"pct":70,"avg":1.62},{"gene":"CD27","id":7,"pct":88,"avg":1.55},{"gene":"TIGIT","id":7,"pct":84,"avg":1.42},{"gene":"IFI16","id":7,"pct":60,"avg":-0.6},{"gene":"ISG15","id":7,"pct":67,"avg":-0.05},{"gene":"CD69","id":7,"pct":49,"avg":-1.2},{"gene":"JUNB","id":7,"pct":95,"avg":0.0},{"gene":"FOS","id":7,"pct":67,"avg":0.25},{"gene":"FOSB","id":7,"pct":35,"avg":-0.2},{"gene":"BCL2","id":7,"pct":32,"avg":1.55},{"gene":"CCR7","id":7,"pct":14,"avg":-1.0},{"gene":"TCF7","id":7,"pct":17,"avg":-0.25},{"gene":"SELL","id":7,"pct":53,"avg":-0.85},
{"gene":"TNFRSF9","id":6,"pct":35,"avg":0.1},{"gene":"TNFRSF4","id":6,"pct":91,"avg":0.55},{"gene":"TNFRSF18","id":6,"pct":91,"avg":0.7},{"gene":"BATF","id":6,"pct":91,"avg":0.85},{"gene":"ICOS","id":6,"pct":56,"avg":-0.38},{"gene":"ENTPD1","id":6,"pct":56,"avg":1.25},{"gene":"IL2RA","id":6,"pct":67,"avg":1.0},{"gene":"CD27","id":6,"pct":88,"avg":0.15},{"gene":"TIGIT","id":6,"pct":84,"avg":-0.35},{"gene":"IFI16","id":6,"pct":63,"avg":-0.35},{"gene":"ISG15","id":6,"pct":56,"avg":-0.45},{"gene":"CD69","id":6,"pct":56,"avg":-1.05},{"gene":"JUNB","id":6,"pct":98,"avg":-0.8},{"gene":"FOS","id":6,"pct":70,"avg":-0.98},{"gene":"FOSB","id":6,"pct":35,"avg":-0.25},{"gene":"BCL2","id":6,"pct":32,"avg":-0.8},{"gene":"CCR7","id":6,"pct":25,"avg":-0.25},{"gene":"TCF7","id":6,"pct":17,"avg":-0.22},{"gene":"SELL","id":6,"pct":56,"avg":-1.1},
{"gene":"TNFRSF9","id":5,"pct":17,"avg":-0.2},{"gene":"TNFRSF4","id":5,"pct":56,"avg":-0.4},{"gene":"TNFRSF18","id":5,"pct":56,"avg":-0.25},{"gene":"BATF","id":5,"pct":63,"avg":-0.12},{"gene":"ICOS","id":5,"pct":53,"avg":1.15},{"gene":"ENTPD1","id":5,"pct":35,"avg":0.05},{"gene":"IL2RA","id":5,"pct":35,"avg":-0.25},{"gene":"CD27","id":5,"pct":60,"avg":-0.55},{"gene":"TIGIT","id":5,"pct":67,"avg":0.35},{"gene":"IFI16","id":5,"pct":67,"avg":2.25},{"gene":"ISG15","id":5,"pct":74,"avg":2.25},{"gene":"CD69","id":5,"pct":53,"avg":1.1},{"gene":"JUNB","id":5,"pct":77,"avg":-0.4},{"gene":"FOS","id":5,"pct":56,"avg":-0.65},{"gene":"FOSB","id":5,"pct":28,"avg":-0.6},{"gene":"BCL2","id":5,"pct":25,"avg":0.5},{"gene":"CCR7","id":5,"pct":21,"avg":0.1},{"gene":"TCF7","id":5,"pct":21,"avg":0.1},{"gene":"SELL","id":5,"pct":42,"avg":0.55},
{"gene":"TNFRSF9","id":4,"pct":17,"avg":-0.5},{"gene":"TNFRSF4","id":4,"pct":53,"avg":-0.8},{"gene":"TNFRSF18","id":4,"pct":49,"avg":-0.92},{"gene":"BATF","id":4,"pct":60,"avg":-0.8},{"gene":"ICOS","id":4,"pct":35,"avg":-0.97},{"gene":"ENTPD1","id":4,"pct":28,"avg":-1.15},{"gene":"IL2RA","id":4,"pct":42,"avg":-0.25},{"gene":"CD27","id":4,"pct":74,"avg":-0.65},{"gene":"TIGIT","id":4,"pct":67,"avg":-1.35},{"gene":"IFI16","id":4,"pct":53,"avg":-0.55},{"gene":"ISG15","id":4,"pct":42,"avg":-0.55},{"gene":"CD69","id":4,"pct":60,"avg":1.4},{"gene":"JUNB","id":4,"pct":95,"avg":1.6},{"gene":"FOS","id":4,"pct":70,"avg":1.65},{"gene":"FOSB","id":4,"pct":39,"avg":1.6},{"gene":"BCL2","id":4,"pct":28,"avg":1.15},{"gene":"CCR7","id":4,"pct":28,"avg":0.7},{"gene":"TCF7","id":4,"pct":21,"avg":0.0},{"gene":"SELL","id":4,"pct":53,"avg":1.4},
{"gene":"TNFRSF9","id":3,"pct":21,"avg":0.2},{"gene":"TNFRSF4","id":3,"pct":53,"avg":-0.3},{"gene":"TNFRSF18","id":3,"pct":53,"avg":-0.25},{"gene":"BATF","id":3,"pct":60,"avg":-0.5},{"gene":"ICOS","id":3,"pct":35,"avg":-0.5},{"gene":"ENTPD1","id":3,"pct":28,"avg":0.2},{"gene":"IL2RA","id":3,"pct":39,"avg":-0.05},{"gene":"CD27","id":3,"pct":67,"avg":-0.05},{"gene":"TIGIT","id":3,"pct":60,"avg":0.12},{"gene":"IFI16","id":3,"pct":42,"avg":-0.35},{"gene":"ISG15","id":3,"pct":60,"avg":0.1},{"gene":"CD69","id":3,"pct":39,"avg":-0.4},{"gene":"JUNB","id":3,"pct":74,"avg":-1.42},{"gene":"FOS","id":3,"pct":63,"avg":1.0},{"gene":"FOSB","id":3,"pct":28,"avg":1.4},{"gene":"BCL2","id":3,"pct":17,"avg":-0.5},{"gene":"CCR7","id":3,"pct":14,"avg":-1.2},{"gene":"TCF7","id":3,"pct":14,"avg":-0.35},{"gene":"SELL","id":3,"pct":39,"avg":-1.0},
{"gene":"TNFRSF9","id":2,"pct":14,"avg":0.1},{"gene":"TNFRSF4","id":2,"pct":42,"avg":-0.5},{"gene":"TNFRSF18","id":2,"pct":42,"avg":-0.35},{"gene":"BATF","id":2,"pct":53,"avg":0.05},{"gene":"ICOS","id":2,"pct":32,"avg":-0.25},{"gene":"ENTPD1","id":2,"pct":21,"avg":-0.55},{"gene":"IL2RA","id":2,"pct":32,"avg":-0.4},{"gene":"CD27","id":2,"pct":67,"avg":1.2},{"gene":"TIGIT","id":2,"pct":63,"avg":1.1},{"gene":"IFI16","id":2,"pct":39,"avg":0.1},{"gene":"ISG15","id":2,"pct":32,"avg":-0.35},{"gene":"CD69","id":2,"pct":39,"avg":0.45},{"gene":"JUNB","id":2,"pct":77,"avg":0.55},{"gene":"FOS","id":2,"pct":42,"avg":-1.05},{"gene":"FOSB","id":2,"pct":14,"avg":-1.2},{"gene":"BCL2","id":2,"pct":14,"avg":-0.25},{"gene":"CCR7","id":2,"pct":17,"avg":1.4},{"gene":"TCF7","id":2,"pct":14,"avg":-0.05},{"gene":"SELL","id":2,"pct":39,"avg":1.15},
{"gene":"TNFRSF9","id":1,"pct":10,"avg":-0.25},{"gene":"TNFRSF4","id":1,"pct":74,"avg":-0.35},{"gene":"TNFRSF18","id":1,"pct":67,"avg":-0.55},{"gene":"BATF","id":1,"pct":74,"avg":-0.9},{"gene":"ICOS","id":1,"pct":42,"avg":-0.6},{"gene":"ENTPD1","id":1,"pct":32,"avg":-1.05},{"gene":"IL2RA","id":1,"pct":10,"avg":-0.85},{"gene":"CD27","id":1,"pct":70,"avg":-1.3},{"gene":"TIGIT","id":1,"pct":74,"avg":-0.9},{"gene":"IFI16","id":1,"pct":63,"avg":0.05},{"gene":"ISG15","id":1,"pct":39,"avg":-0.55},{"gene":"CD69","id":1,"pct":56,"avg":0.2},{"gene":"JUNB","id":1,"pct":91,"avg":0.95},{"gene":"FOS","id":1,"pct":67,"avg":0.35},{"gene":"FOSB","id":1,"pct":35,"avg":-0.4},{"gene":"BCL2","id":1,"pct":21,"avg":-1.25},{"gene":"CCR7","id":1,"pct":35,"avg":1.05},{"gene":"TCF7","id":1,"pct":39,"avg":2.25},{"gene":"SELL","id":1,"pct":53,"avg":0.25}
]
},
"vconcat":[
{
"width":190,"height":190,
"title":{"text":"A","anchor":"start","frame":"group","fontSize":20,"fontWeight":"bold","color":"#000","dx":-48,"dy":30,"offset":0},
"layer":[
{"data":{"name":"umap"},"mark":{"type":"circle","size":19,"opacity":1},
"encoding":{
"x":{"field":"u1","type":"quantitative","scale":{"domain":[-9.3,9.7],"nice":false,"zero":false},"axis":{"title":"UMAP-1","labels":false,"ticks":false,"domain":false,"grid":false,"titleFontSize":14,"titleFontWeight":"normal","titleColor":"#000","titlePadding":2}},
"y":{"field":"u2","type":"quantitative","scale":{"domain":[-9.3,9.7],"nice":false,"zero":false},"axis":{"title":"UMAP-2","labels":false,"ticks":false,"domain":false,"grid":false,"titleFontSize":14,"titleFontWeight":"normal","titleColor":"#000","titlePadding":20}},
"color":{"field":"s","type":"nominal","scale":{"domain":["S1","S2","S3","S4"],"range":["#F8766D","#7CAE00","#00BFC4","#C77CFF"]},"legend":null}}},
{"data":{"values":[{"cancer":"Breast cancer"},{"cancer":"Colorectal cancer"},{"cancer":"Lung cancer"},{"cancer":"Ovarian cancer"}]},
"mark":{"type":"circle","opacity":0},
"encoding":{"color":{"field":"cancer","type":"nominal","scale":{"domain":["Breast cancer","Colorectal cancer","Lung cancer","Ovarian cancer"],"range":["#D6A87B","#1680C8","#2E7A1F","#FF6D3B"]},
"legend":{"title":null,"orient":"none","legendX":198,"legendY":67,"symbolType":"circle","symbolSize":200,"symbolOpacity":1,"symbolStrokeWidth":0,"labelFontSize":14,"labelColor":"#000","labelOffset":3,"rowPadding":5}}}}
],
"resolve":{"scale":{"color":"independent"}}
},
{
"width":672,"height":332,
"title":{"text":"B","anchor":"start","frame":"group","fontSize":20,"fontWeight":"bold","color":"#000","dx":-48,"offset":10},
"data":{"name":"dots"},
"mark":{"type":"circle","opacity":1},
"encoding":{
"x":{"field":"gene","type":"nominal","sort":["TNFRSF9","TNFRSF4","TNFRSF18","BATF","ICOS","ENTPD1","IL2RA","CD27","TIGIT","IFI16","ISG15","CD69","JUNB","FOS","FOSB","BCL2","CCR7","TCF7","SELL"],"scale":{"type":"point","padding":0.6},
"axis":{"title":null,"labelAngle":-45,"labelAlign":"right","labelBaseline":"top","labelFontSize":15,"labelColor":"#222","labelPadding":3,"tickSize":5,"tickColor":"#333","domainColor":"#333","domainWidth":1.2,"grid":false}},
"y":{"field":"id","type":"ordinal","sort":"descending","scale":{"type":"point","padding":0.6},
"axis":{"title":"Identity","titleFontSize":14,"titleFontWeight":"normal","titleColor":"#000","titlePadding":5,"labelFontSize":14,"labelColor":"#222","labelPadding":5,"tickSize":5,"tickColor":"#333","domainColor":"#333","domainWidth":1.2,"grid":false}},
"size":{"field":"pct","type":"quantitative","title":"Percent Expressed","scale":{"type":"pow","exponent":2,"domain":[0,100],"range":[0,283]},
"legend":{"values":[25,50,75],"orient":"none","legendX":689,"legendY":337,"symbolFillColor":"#000","symbolStrokeWidth":0,"symbolOpacity":1,"titleFontSize":16,"titleFontWeight":"normal","titleColor":"#000","titlePadding":15,"labelFontSize":14,"labelColor":"#222","rowPadding":4}},
"color":{"field":"avg","type":"quantitative","title":"Average Expression","scale":{"scheme":"magma","domain":[-1.42,2.35]},
"legend":{"values":[-1,0,1,2],"labelExpr":"datum.value","orient":"none","legendX":689,"legendY":442,"gradientLength":98,"gradientThickness":19,"titleFontSize":16,"titleFontWeight":"normal","titleColor":"#000","titlePadding":5,"labelFontSize":14,"labelColor":"#222","labelOffset":6}}
}
}
]
}
